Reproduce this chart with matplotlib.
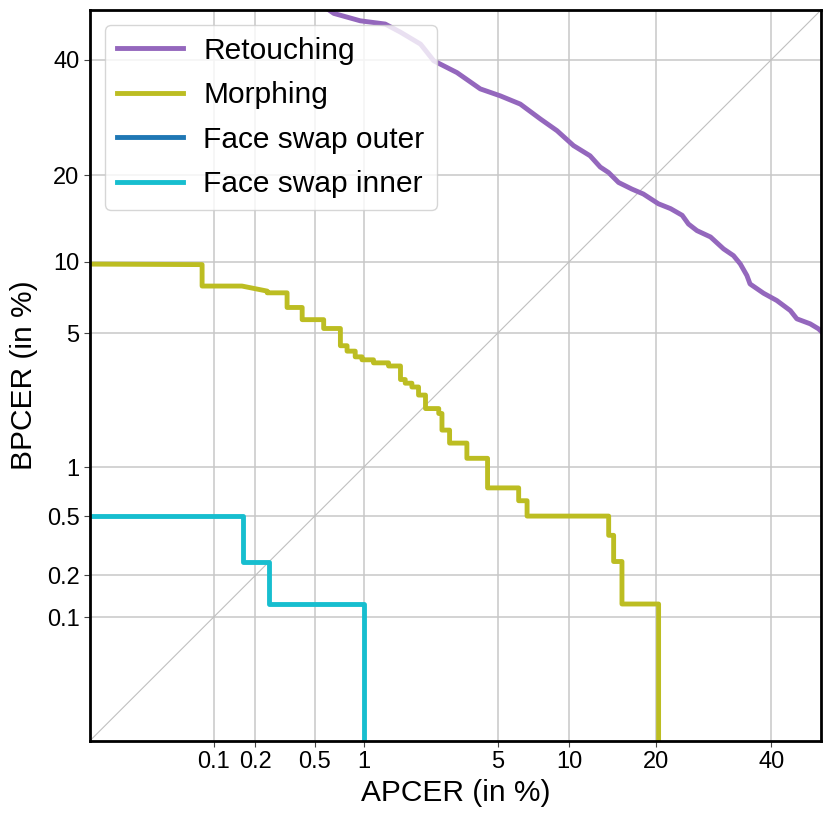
from statistics import NormalDist
import numpy as np
import matplotlib
matplotlib.use("Agg")
import matplotlib.pyplot as plt

# DET curves, values in percent (APCER on x, BPCER on y)
retouch_apcer = [0.5, 0.66, 0.954, 1.33, 1.62, 2.08, 2.44, 3.2, 4.15, 5.14, 6.3, 7.67,
                 8.96, 10.4, 12.0, 13.07, 13.99, 15.15, 16.8, 18.3, 20.4, 22.2, 24.0,
                 25.0, 26.4, 28.7, 31.0, 32.8, 34.05, 35.3, 35.9, 38.5, 41.1, 43.8,
                 45.1, 47.8, 49.5, 50.0]
retouch_bpcer = [52.0, 49.3, 47.8, 47.15, 45.5, 43.1, 39.8, 37.5, 34.4, 33.1, 31.6, 28.95,
                 26.95, 24.5, 22.9, 21.2, 20.4, 19.0, 18.1, 17.45, 16.2, 15.6, 14.8,
                 13.8, 13.07, 12.4, 11.2, 10.56, 9.82, 8.83, 8.16, 7.47, 6.96, 6.3,
                 5.8, 5.51, 5.23, 5.1]

morph_apcer = [0.0, 0.082, 0.082, 0.161, 0.242, 0.242, 0.33, 0.33, 0.415, 0.415, 0.57, 0.57,
               0.724, 0.724, 0.795, 0.795, 0.89, 0.89, 0.977, 0.977, 1.14, 1.14, 1.39,
               1.39, 1.62, 1.62, 1.72, 1.72, 1.87, 1.87, 2.03, 2.03, 2.21, 2.21, 2.59,
               2.59, 2.69, 2.69, 2.94, 2.94, 3.58, 3.58, 4.49, 4.49, 6.2, 6.2, 6.74,
               6.74, 14.0, 14.0, 14.57, 14.57, 15.56, 15.56, 20.43, 20.43]
morph_bpcer = [9.875, 9.75, 8.0, 8.0, 7.625, 7.5, 7.5, 6.5, 6.5, 5.75, 5.75, 5.25,
               5.25, 4.375, 4.375, 4.125, 4.125, 3.875, 3.875, 3.75, 3.75, 3.625, 3.625,
               3.5, 3.5, 3.0, 3.0, 2.875, 2.875, 2.75, 2.75, 2.5, 2.5, 2.125, 2.125,
               2.0, 2.0, 1.625, 1.625, 1.375, 1.375, 1.125, 1.125, 0.75, 0.75, 0.625, 0.625,
               0.5, 0.5, 0.375, 0.375, 0.25, 0.25, 0.125, 0.125, 0.0]

outer_apcer = [0.0, 100.0]
outer_bpcer = [0.0, 0.0]

inner_apcer = [0.0, 0.164, 0.164, 0.248, 0.248, 1.0, 1.0]
inner_bpcer = [0.5, 0.5, 0.25, 0.25, 0.125, 0.125, 0.0]

tick_vals = [0.1, 0.2, 0.5, 1, 5, 10, 20, 40]
tick_labels = ["0.1", "0.2", "0.5", "1", "5", "10", "20", "40"]

nd = NormalDist()
_ppf = np.vectorize(lambda p: nd.inv_cdf(min(max(p / 100.0, 1e-6), 1 - 1e-6)), otypes=[float])
_cdf = np.vectorize(lambda z: nd.cdf(z) * 100.0, otypes=[float])


def fwd(x):
    return _ppf(np.asarray(x, dtype=float))


def inv(z):
    return _cdf(np.asarray(z, dtype=float))


plt.rcParams["font.family"] = ["Liberation Sans", "DejaVu Sans"]

fig = plt.figure(figsize=(8.31, 8.18), dpi=100)
ax = fig.add_axes([0.1083, 0.0945, 0.8797, 0.8933])
ax.set_xscale("function", functions=(fwd, inv))
ax.set_yscale("function", functions=(fwd, inv))

ax.plot([0.01, 50], [0.01, 50], color="#c0c0c0", lw=0.8, zorder=1)

ax.plot(retouch_apcer, retouch_bpcer, color="tab:purple", lw=3.5, label="Retouching")
ax.plot(morph_apcer, morph_bpcer, color="tab:olive", lw=3.5, label="Morphing")
ax.plot(outer_apcer, outer_bpcer, color="tab:blue", lw=3.5, label="Face swap outer")
ax.plot(inner_apcer, inner_bpcer, color="tab:cyan", lw=3.5, label="Face swap inner")

ax.set_xlim(0.01, 50)
ax.set_ylim(0.01, 50)
ax.set_xticks(tick_vals)
ax.set_xticklabels(tick_labels)
ax.set_yticks(tick_vals)
ax.set_yticklabels(tick_labels)
ax.xaxis.set_minor_locator(matplotlib.ticker.NullLocator())
ax.yaxis.set_minor_locator(matplotlib.ticker.NullLocator())
ax.tick_params(labelsize=17, length=4, color="#444444")
ax.grid(True, color="#c8c8c8", lw=1.1)
ax.set_axisbelow(True)
for s in ax.spines.values():
    s.set_linewidth(2)
    s.set_color("black")

ax.set_xlabel("APCER (in %)", fontsize=21.5, labelpad=4)
ax.set_ylabel("BPCER (in %)", fontsize=21.5, labelpad=6)
ax.legend(loc="upper left", fontsize=21.5, handlelength=2.2, handletextpad=0.7,
          labelspacing=0.55)

fig.savefig("out.png", dpi=100)
